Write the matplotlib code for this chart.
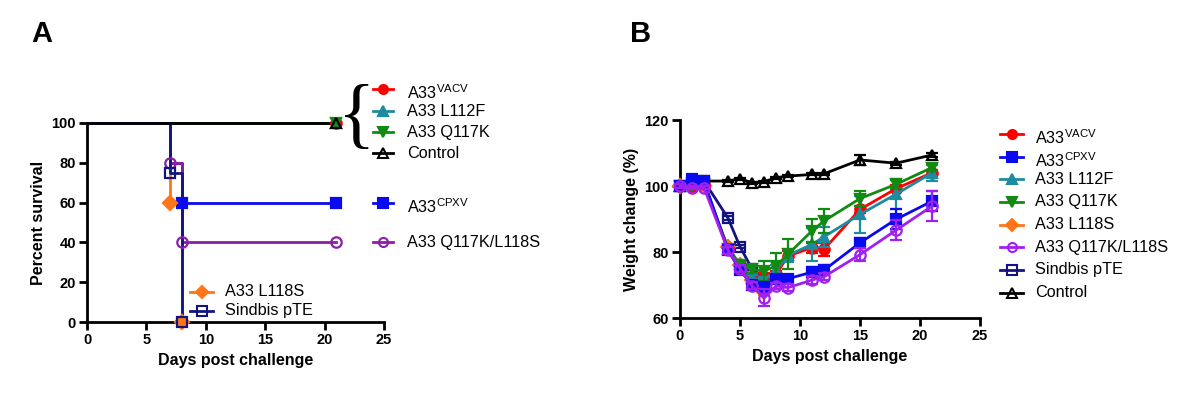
import matplotlib
matplotlib.use("Agg")
import matplotlib.pyplot as plt
from matplotlib.lines import Line2D
import numpy as np

plt.rcParams['font.family'] = ['Liberation Sans', 'DejaVu Sans']
plt.rcParams['mathtext.default'] = 'regular'

# ---------------- data ----------------
# Panel A: survival (Kaplan-Meier steps)
surv_names = ['A33$^{VACV}$', 'A33 L112F', 'A33 Q117K', 'Control', 'A33$^{CPXV}$',
              'A33 Q117K/L118S', 'A33 L118S', 'Sindbis pTE']
surv_vacv_t = [0, 21];        surv_vacv_s = [100, 100]
surv_l112f_t = [0, 21];       surv_l112f_s = [100, 100]
surv_q117k_t = [0, 21];       surv_q117k_s = [100, 100]
surv_ctrl_t = [0, 21];        surv_ctrl_s = [100, 100]
surv_cpxv_t = [0, 7, 8, 21];  surv_cpxv_s = [100, 80, 60, 60]
surv_dbl_t = [0, 7, 8, 21];   surv_dbl_s = [100, 80, 40, 40]
surv_l118s_t = [0, 7, 8];     surv_l118s_s = [100, 60, 0]
surv_sind_t = [0, 7, 8];      surv_sind_s = [100, 75, 0]

# Panel B: weight change (%)
days = [0, 1, 2, 4, 5, 6, 7, 8, 9, 11, 12, 15, 18, 21]
w_vacv = [100, 100, 100.5, 81, 76, 72.5, 72.5, 73.2, 78.8, 81.3, 80.8, 92.9, 99.2, 104]
e_vacv = [0.5, 0.5, 0.5, 1, 1, 1, 1, 1, 1.5, 1.5, 2, 1, 1, 1]
w_cpxv = [100, 101.5, 101.5, 80.5, 74.5, 70, 69.5, 71.7, 71.9, 73.9, 74.5, 82.8, 89.9, 95.4]
e_cpxv = [0.5, 2, 0.5, 1, 1, 1, 1.5, 1, 1, 1.5, 1.5, 1.5, 3, 3]
w_l112f = [100, 101, 101, 81, 76.5, 72, 71.5, 74.5, 79, 82.3, 84.6, 91.4, 97.5, 104]
e_l112f = [0.5, 0.5, 0.5, 1, 1, 1, 1, 1.5, 2, 5, 3, 5.5, 4.5, 2.5]
w_q117k = [100, 100, 100.5, 81, 76, 74.7, 74.2, 75.8, 79.3, 86.4, 89.4, 96.2, 100.5, 105.6]
e_q117k = [0.5, 0.5, 0.5, 1, 1, 1, 3, 4, 4.5, 3.5, 3.5, 2.3, 1.2, 1]
w_l118s = [100, 100, 100, 81.5, 76, 71.5, 68]
e_l118s = [0.5, 0.5, 0.5, 1, 1, 1, 1]
w_dbl = [100, 99.5, 99.5, 80.5, 75, 69.8, 66.2, 69.7, 69.2, 71.5, 72.5, 79.2, 86.6, 93.9]
e_dbl = [0.5, 0.5, 0.5, 1, 1, 1, 2.5, 1, 1, 1.2, 1, 2, 3, 4.5]
w_sind = [100, 101, 101.5, 90.3, 81.6, 74.9, 70.8]
e_sind = [0.5, 0.5, 0.5, 0.5, 0.5, 0.5, 0.5]
w_ctrl = [100, 100.8, 101.5, 101.5, 102.2, 101, 101.3, 102.5, 103, 103.5, 103.7, 107.9, 106.9, 109.4]
e_ctrl = [0.3, 0.3, 0.3, 0.3, 0.3, 0.3, 0.3, 0.3, 0.3, 0.3, 0.3, 1.5, 0.5, 0.5]

# ---------------- styles ----------------
C_RED = '#FF0000'; C_BLUE = '#0A0AF0'; C_TEAL = '#1E8CA0'; C_GREEN = '#118A11'
C_ORANGE = '#FF7518'; C_PURPLE_A = '#8A1FA8'; C_PURPLE_B = '#A020F0'
C_NAVY = '#141480'; C_BLACK = '#000000'

W, H = 1200, 400
fig = plt.figure(figsize=(12, 4), dpi=100)


def fx(x):
    return x / W


def fy(y):
    return 1 - y / H


def style_axes(ax):
    for s in ['top', 'right']:
        ax.spines[s].set_visible(False)
    for s in ['left', 'bottom']:
        ax.spines[s].set_linewidth(2.0)
    ax.tick_params(direction='out', length=6, width=2.0, labelsize=10.5, pad=2)
    for lab in ax.get_xticklabels() + ax.get_yticklabels():
        lab.set_fontweight('bold')


LW = 2.0
MS = 6.5
FS_LAB = 11.5
FS_LEG = 11.7

# ---------------- Panel A ----------------
axA = fig.add_axes([fx(87), fy(322), fx(384) - fx(87), fy(123) - fy(322)])
axA.set_xlim(0, 25)
axA.set_ylim(0, 100)
axA.set_xticks([0, 5, 10, 15, 20, 25])
axA.set_yticks([0, 20, 40, 60, 80, 100])

seriesA = [
    (surv_vacv_t, surv_vacv_s, C_RED, 'o', C_RED, [1]),
    (surv_l112f_t, surv_l112f_s, C_TEAL, '^', C_TEAL, [1]),
    (surv_q117k_t, surv_q117k_s, C_GREEN, 'v', C_GREEN, [1]),
    (surv_cpxv_t, surv_cpxv_s, C_BLUE, 's', C_BLUE, [2, 3]),
    (surv_l118s_t, surv_l118s_s, C_ORANGE, 'D', C_ORANGE, [1, 2]),
    (surv_dbl_t, surv_dbl_s, C_PURPLE_A, 'o', 'none', [1, 2, 3]),
    (surv_sind_t, surv_sind_s, C_NAVY, 's', 'none', [1, 2]),
    (surv_ctrl_t, surv_ctrl_s, C_BLACK, '^', 'none', [1]),
]
for k, (t, s, c, m, mfc, idx) in enumerate(seriesA):
    axA.plot(t, s, drawstyle='steps-post', color=c, lw=LW, clip_on=False, zorder=3 + 0.1 * k)
    axA.plot([t[i] for i in idx], [s[i] for i in idx], ls='none', marker=m,
             color=c, mfc=mfc, mec=c, mew=1.6, ms=MS + 1, clip_on=False, zorder=5 + 0.1 * k)

style_axes(axA)
axA.set_xlabel('Days post challenge', fontsize=FS_LAB, fontweight='bold', labelpad=4)
axA.set_ylabel('Percent survival', fontsize=FS_LAB, fontweight='bold', labelpad=4)

# ---------------- Panel B ----------------
axB = fig.add_axes([fx(680), fy(318), fx(980) - fx(680), fy(120) - fy(318)])
axB.set_xlim(0, 25)
axB.set_ylim(60, 120)
axB.set_xticks([0, 5, 10, 15, 20, 25])
axB.set_yticks([60, 80, 100, 120])

seriesB = [
    (days, w_ctrl, e_ctrl, C_BLACK, '^', 'none'),
    (days[:7], w_sind, e_sind, C_NAVY, 's', 'none'),
    (days[:7], w_l118s, e_l118s, C_ORANGE, 'D', C_ORANGE),
    (days, w_vacv, e_vacv, C_RED, 'o', C_RED),
    (days, w_l112f, e_l112f, C_TEAL, '^', C_TEAL),
    (days, w_q117k, e_q117k, C_GREEN, 'v', C_GREEN),
    (days, w_cpxv, e_cpxv, C_BLUE, 's', C_BLUE),
    (days, w_dbl, e_dbl, C_PURPLE_B, 'o', 'none'),
]
for z, (d, w, e, c, m, mfc) in enumerate(seriesB):
    res = axB.errorbar(d, w, yerr=e, color=c, lw=LW, elinewidth=1.6, capsize=4,
                       capthick=1.6, marker=m, mfc=mfc, mec=c, mew=1.6, ms=MS + 1,
                       clip_on=False, zorder=3 + z * 0.1)
    for art in list(res.lines[1]) + list(res.lines[2]):
        art.set_clip_on(False)

style_axes(axB)
axB.set_xlabel('Days post challenge', fontsize=FS_LAB, fontweight='bold', labelpad=4)
axB.set_ylabel('Weight change (%)', fontsize=FS_LAB, fontweight='bold', labelpad=4)

# ---------------- panel letters ----------------
fig.text(fx(42), fy(34), 'A', fontsize=21, fontweight='bold', ha='center', va='center')
fig.text(fx(641), fy(34), 'B', fontsize=21, fontweight='bold', ha='center', va='center')


# ---------------- manual legends ----------------
def entry(x1, x2, y, color, marker, mfc, label, tx, sup=False, fs=FS_LEG):
    fig.add_artist(Line2D([fx(x1), fx(x2)], [fy(y), fy(y)], color=color, lw=LW,
                          transform=fig.transFigure))
    fig.add_artist(Line2D([fx((x1 + x2) / 2)], [fy(y)], color=color, marker=marker,
                          mfc=mfc, mec=color, mew=1.5, ms=MS, ls='none',
                          transform=fig.transFigure))
    fig.text(fx(tx), fy(y + (4 if sup else 0)), label, fontsize=fs, va='center', ha='left')


# Panel A legends
entry(373, 393, 89, C_RED, 'o', C_RED, surv_names[0], 407, sup=True)
entry(373, 393, 111, C_TEAL, '^', C_TEAL, surv_names[1], 407)
entry(373, 393, 132, C_GREEN, 'v', C_GREEN, surv_names[2], 407)
entry(373, 393, 153, C_BLACK, '^', 'none', surv_names[3], 407)
fig.text(fx(357), fy(120), '{', fontsize=56, family='Liberation Serif',
         ha='center', va='center')
entry(373, 393, 203, C_BLUE, 's', C_BLUE, surv_names[4], 407, sup=True)
entry(373, 393, 242, C_PURPLE_A, 'o', 'none', surv_names[5], 407)
entry(190, 213, 292, C_ORANGE, 'D', C_ORANGE, surv_names[6], 225)
entry(190, 213, 311, C_NAVY, 's', 'none', surv_names[7], 225)

# Panel B legend
legB = [
    (C_RED, 'o', C_RED, 'A33$^{VACV}$', True),
    (C_BLUE, 's', C_BLUE, 'A33$^{CPXV}$', True),
    (C_TEAL, '^', C_TEAL, 'A33 L112F', False),
    (C_GREEN, 'v', C_GREEN, 'A33 Q117K', False),
    (C_ORANGE, 'D', C_ORANGE, 'A33 L118S', False),
    (C_PURPLE_B, 'o', 'none', 'A33 Q117K/L118S', False),
    (C_NAVY, 's', 'none', 'Sindbis pTE', False),
    (C_BLACK, '^', 'none', 'Control', False),
]
for i, (c, m, mfc, lab, sup) in enumerate(legB):
    entry(1000, 1023, 134 + 22.65 * i, c, m, mfc, lab, 1035, sup=sup)

fig.savefig('out.png', dpi=100)
